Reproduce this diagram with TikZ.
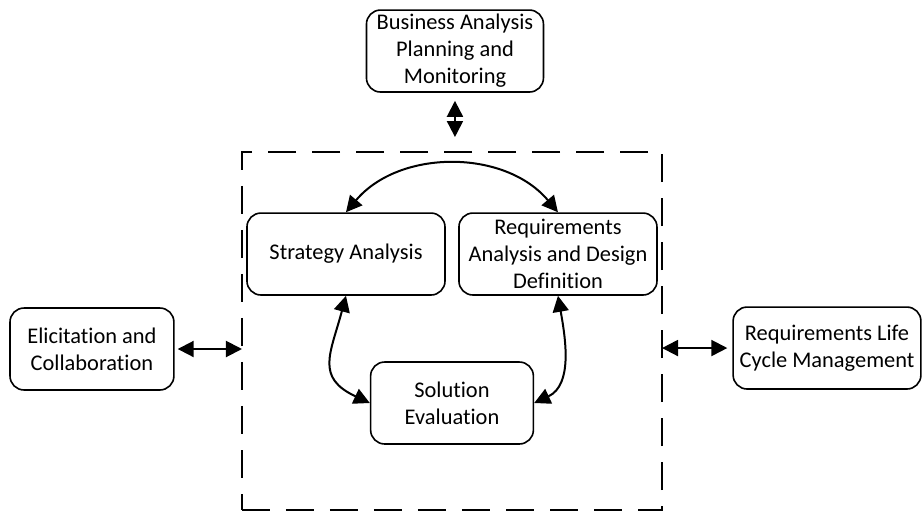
\documentclass[tikz,border=0pt]{standalone}
\usepackage{fontspec}
\setmainfont[Ligatures=NoCommon]{Carlito}
\usetikzlibrary{arrows.meta}

\tikzstyle{block} = [rectangle, rounded corners=7pt, minimum height=1.44cm,
text centered, align=center, draw=black, line width=0.8pt,
font=\fontsize{11.2}{13.5}\selectfont, inner xsep=2pt, inner ysep=1pt]
\tikzstyle{dashbox} = [rectangle, draw=black, line width=0.9pt,
dash pattern=on 14pt off 8pt, minimum width=7.381cm, minimum height=6.291cm,
inner sep=0pt, outer sep=0pt]

\begin{document}
\begin{tikzpicture}
  \useasboundingbox (-6.080,-4.516) rectangle (10.122,4.464);
  \node (sa) [block, minimum width=3.48cm] {Strategy Analysis};
  \node (radd) [block, minimum width=3.48cm, right of=sa, xshift=2.725cm] {Requirements\\Analysis and Design\\Definition};
  \node (se) [block, minimum width=2.86cm, below of=sa, xshift=1.863cm, yshift=-1.618cm] {Solution\\Evaluation};
  \node (bapm) [block, minimum width=3.11cm, above of=sa, xshift=1.915cm, yshift=2.567cm] {Business Analysis\\Planning and\\Monitoring};
  \node (ec) [block, minimum width=2.88cm, left of=sa, xshift=-3.464cm, yshift=-1.669cm] {Elicitation and\\Collaboration};
  \node (rlcm) [block, minimum width=3.30cm, right of=sa, xshift=7.453cm, yshift=-1.652cm] {Requirements Life\\Cycle Management};
  \node (area) [dashbox, below of=sa, xshift=1.863cm, yshift=-0.353cm] {};
  % connections
  \path [line width=1pt,<->,>={Triangle[length=8pt,width=8pt]}] (sa.north) edge[bend left=50] (radd.north);
  \path [line width=1pt,<->,>={Triangle[length=8pt,width=8pt]}] (sa.south) edge[out=-105, in=155, looseness=1.4] (se.west);
  \path [line width=1pt,<->,>={Triangle[length=8pt,width=8pt]}] (radd.south) edge[out=-80, in=25] (se.east);
  \path [line width=1pt,<->,>={Triangle[length=8pt,width=8pt]}, shorten <=4pt, shorten >=7.5pt] (bapm.south) edge (bapm.south |- area.north);
  \path [line width=1pt,<->,>={Triangle[length=8pt,width=8pt]}, shorten <=1.5pt] (ec.east) edge (ec.east -| area.west);
  \path [line width=1pt,<->,>={Triangle[length=8pt,width=8pt]}, shorten >=2.5pt] (area.east |- rlcm.west) edge (rlcm.west);
\end{tikzpicture}
\end{document}
